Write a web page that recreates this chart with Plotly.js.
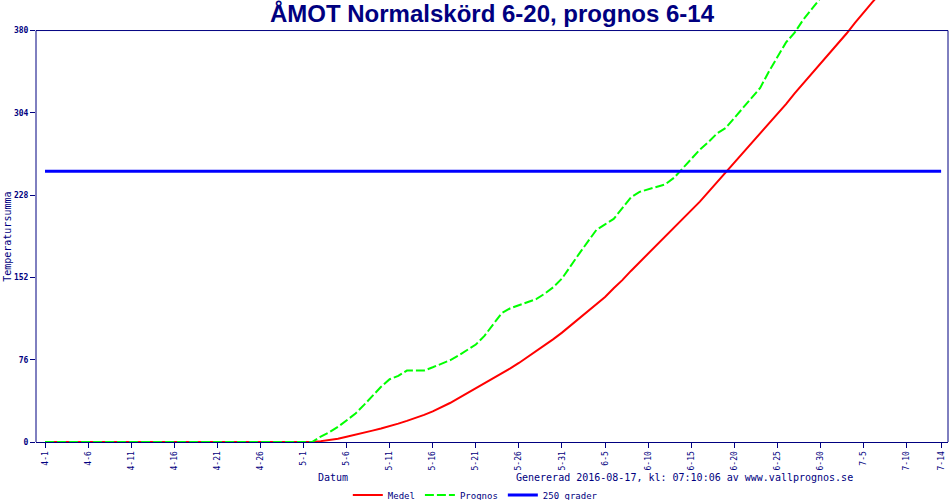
<!DOCTYPE html>
<html>
<head>
<meta charset="utf-8">
<script src="https://cdn.plot.ly/plotly-3.0.1.min.js"></script>
<style>
  html, body { margin: 0; padding: 0; background: #fff; }
  #chart { width: 950px; height: 500px; }
</style>
</head>
<body>
<div id="chart"></div>
<script>
// daily values, first entry is 4-1
const START = [2016, 3, 1];

const medel = [
  0, 0, 0, 0, 0, 0, 0, 0, 0, 0,
  0, 0, 0, 0, 0, 0, 0, 0, 0, 0,
  0, 0, 0, 0, 0, 0, 0, 0, 0, 0,
  0, 0, 0.8, 1.8, 3, 4.8, 6.5, 8.5, 10.5, 12.5,
  14.5, 17, 19.5, 22, 25, 28.3, 32, 36, 40.5, 45,
  50, 54.5, 59, 63.5, 68, 73, 78.5, 84, 89, 95,
  101, 107.5, 114, 120.5, 127, 134, 142, 149.5, 158, 166,
  174, 182, 190, 198, 206, 214, 222, 231, 240, 249,
  258, 267, 276, 285, 294, 303, 312, 322, 331, 340,
  349, 359, 368, 377, 387, 397, 406, 415
];

const prognos = [
  0, 0, 0, 0, 0, 0, 0, 0, 0, 0,
  0, 0, 0, 0, 0, 0, 0, 0, 0, 0,
  0, 0, 0, 0, 0, 0, 0, 0, 0, 0,
  0, 0, 5, 9, 14, 20, 26, 34, 43, 51,
  58, 61, 66, 66, 66, 69, 72, 75.5, 80, 85,
  90, 98, 108, 119, 123.5, 126.5, 129, 132, 137, 143,
  151, 163, 174, 185, 196, 201, 206, 216, 226, 231,
  233.5, 236, 238, 244, 253, 262, 270, 277, 285, 290,
  299, 308, 317, 327, 342, 356, 369, 378, 390, 400,
  410
];

const graderDays = [0, 104];
const graderValues = [250, 250];

const tickDays = [0, 5, 10, 15, 20, 25, 30, 35, 40, 45, 50, 55, 60, 65, 70, 75, 80, 85, 90, 95, 100, 104];
const yTicks = [0, 76, 152, 228, 304, 380];

function dayToDate(i) {
  const d = new Date(START[0], START[1], START[2] + i);
  const p = n => String(n).padStart(2, '0');
  return d.getFullYear() + '-' + p(d.getMonth() + 1) + '-' + p(d.getDate());
}
function dayLabel(i) {
  const d = new Date(START[0], START[1], START[2] + i);
  return (d.getMonth() + 1) + '-' + d.getDate();
}

const NAVY = '#000080';
const MONO = 'DejaVu Sans Mono, monospace';

const traces = [
  {
    x: medel.map((v, i) => dayToDate(i)),
    y: medel,
    mode: 'lines',
    line: {color: '#ff0000', width: 2},
    name: 'Medel'
  },
  {
    x: prognos.map((v, i) => dayToDate(i)),
    y: prognos,
    mode: 'lines',
    line: {color: '#00ff00', width: 2, dash: '9px,3px'},
    name: 'Prognos'
  },
  {
    x: graderDays.map(dayToDate),
    y: graderValues,
    mode: 'lines',
    line: {color: '#0000ff', width: 3},
    name: '250 grader'
  }
];

const layout = {
  width: 950,
  height: 500,
  margin: {l: 36, r: 2, t: 0, b: 58, autoexpand: false},
  paper_bgcolor: '#fff',
  plot_bgcolor: '#fff',
  showlegend: true,
  title: {
    text: 'ÅMOT Normalskörd 6-20, prognos 6-14',
    xref: 'paper', x: 0.5, xanchor: 'center',
    yref: 'container', y: 0.973, yanchor: 'middle',
    font: {family: 'Liberation Sans, Arial, sans-serif', size: 24, color: NAVY, weight: 'bold'}
  },
  xaxis: {
    type: 'date',
    range: ['2016-03-30 22:55', '2016-07-14 19:10'],
    tickvals: tickDays.map(dayToDate),
    ticktext: tickDays.map(dayLabel),
    tickangle: -90,
    ticks: 'outside',
    ticklen: 5,
    tickcolor: NAVY,
    tickfont: {family: MONO, size: 8, color: NAVY},
    showline: true,
    linecolor: NAVY,
    linewidth: 1,
    showgrid: false,
    zeroline: false
  },
  yaxis: {
    range: [0, 408.2],
    tickvals: yTicks,
    ticktext: yTicks.map(String),
    ticks: 'outside',
    ticklen: 5,
    tickcolor: NAVY,
    tickfont: {family: MONO, size: 8, color: NAVY, weight: 'bold'},
    showline: false,
    showgrid: false,
    zeroline: false
  },
  shapes: [
    {type: 'line', xref: 'paper', yref: 'y', x0: 0, x1: 0, y0: 0, y1: 380, line: {color: NAVY, width: 1}},
    {type: 'line', xref: 'paper', yref: 'y', x0: 0, x1: 1, y0: 380, y1: 380, line: {color: NAVY, width: 1}},
    {type: 'line', xref: 'paper', yref: 'y', x0: 1, x1: 1, y0: 0, y1: 380, line: {color: NAVY, width: 1}}
  ],
  annotations: [
    {
      text: 'Temperatursumma', textangle: -90,
      xref: 'paper', x: -0.0307, xanchor: 'center',
      yref: 'y', y: 189.5, yanchor: 'middle',
      showarrow: false,
      font: {family: MONO, size: 10, color: NAVY}
    },
    {
      text: 'Datum',
      xref: 'paper', x: 0.3257, xanchor: 'center',
      yref: 'paper', y: -0.0814, yanchor: 'middle',
      showarrow: false,
      font: {family: MONO, size: 10, color: NAVY}
    },
    {
      text: 'Genererad 2016-08-17, kl: 07:10:06 av www.vallprognos.se',
      xref: 'paper', x: 0.7116, xanchor: 'center',
      yref: 'paper', y: -0.0814, yanchor: 'middle',
      showarrow: false,
      font: {family: MONO, size: 10, color: NAVY}
    }
  ],
  legend: {
    orientation: 'h',
    xref: 'paper', x: 0.4817, xanchor: 'center',
    yref: 'paper', y: -0.12, yanchor: 'middle',
    bgcolor: 'rgba(0,0,0,0)',
    font: {family: MONO, size: 9, color: NAVY}
  }
};

Plotly.newPlot('chart', traces, layout, {displayModeBar: false, staticPlot: true});
</script>
</body>
</html>
